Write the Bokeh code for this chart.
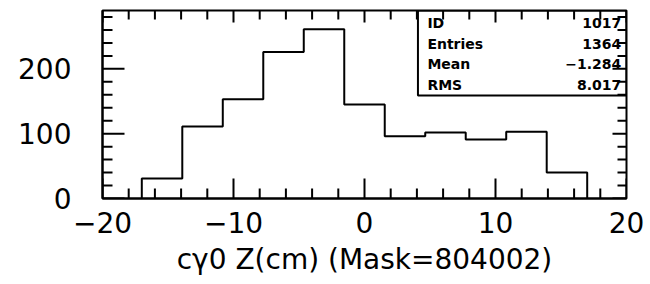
import numpy as np
from bokeh.plotting import figure
from bokeh.models import BoxAnnotation, Range1d, FixedTicker, ColumnDataSource
from bokeh.core.properties import value
from bokeh.embed import file_html
from bokeh.resources import INLINE

# ---- data ----
bin_lo = -17.0
bin_hi = 17.0
counts = [31, 111, 153, 226, 261, 145, 96, 102, 91, 103, 40]
x_ticks = [-20, -10, 0, 10, 20]
x_minor = list(range(-20, 21, 2))
x_tick_labels = ["\u221220", "\u221210", "0", "10", "20"]
y_ticks = [0, 100, 200]
y_minor = list(range(0, 291, 20))
y_tick_labels = ["0", "100", "200"]
stat_names = ["ID", "Entries", "Mean", "RMS"]
stat_values = ["1017", "1364", "\u22121.284", "8.017"]
x_label = "c\u03b30 Z(cm) (Mask=804002)"

X0, X1, Y0, Y1 = -20, 20, 0, 290
W, H = 650, 284
BL, BR, BT, BB = 102, 24, 10, 86
FW, FH = W - BL - BR, H - BT - BB
DX = (X1 - X0) / FW   # data units per pixel in x
DY = (Y1 - Y0) / FH   # data units per pixel in y

# ---- step outline built from the bins ----
edges = np.linspace(bin_lo, bin_hi, len(counts) + 1)
xs = [edges[0]]
ys = [0]
for i, c in enumerate(counts):
    xs += [edges[i], edges[i + 1]]
    ys += [c, c]
xs.append(edges[-1])
ys.append(0)

FONT = "DejaVu Sans"

p = figure(width=W, height=H, output_backend="svg", toolbar_location=None,
           x_range=Range1d(X0, X1), y_range=Range1d(Y0, Y1),
           min_border_left=BL, min_border_right=BR, min_border_top=BT,
           min_border_bottom=BB, background_fill_color="white",
           border_fill_color="white")
p.grid.visible = False
p.outline_line_color = "black"
p.outline_line_alpha = 1.0
p.outline_line_width = 2

p.line(xs, ys, line_color="black", line_width=2)

# ---- inward tick marks on all four sides ----
xmin_only = [t for t in x_minor if t not in x_ticks]
ymin_only = [t for t in y_minor if t not in y_ticks]

tick_x, tick_y, tick_x1, tick_y1 = [], [], [], []


def add_xticks(pos, y, length_px, sign):
    for t in pos:
        tick_x.append(t); tick_y.append(y)
        tick_x1.append(t); tick_y1.append(y + sign * length_px * DY)


def add_yticks(pos, x, length_px, sign):
    for t in pos:
        tick_x.append(x); tick_y.append(t)
        tick_x1.append(x + sign * length_px * DX); tick_y1.append(t)


add_xticks(x_ticks, Y0, 20, 1)
add_xticks(xmin_only, Y0, 10, 1)
add_xticks(x_ticks, Y1, 12, -1)
add_xticks(xmin_only, Y1, 9, -1)
add_yticks(y_ticks, X0, 22, 1)
add_yticks(ymin_only, X0, 10, 1)
add_yticks(y_ticks, X1, 14, -1)
add_yticks(ymin_only, X1, 9, -1)

tsrc = ColumnDataSource(dict(x0=tick_x, y0=tick_y, x1=tick_x1, y1=tick_y1))
p.segment(x0="x0", y0="y0", x1="x1", y1="y1", source=tsrc,
          line_color="black", line_width=2)

# ---- axes (labels only) ----
xa = p.xaxis[0]
xa.ticker = FixedTicker(ticks=x_ticks)
xa.major_label_overrides = {t: l for t, l in zip(x_ticks, x_tick_labels)}
xa.major_tick_in = 0
xa.major_tick_out = 0
xa.minor_tick_in = 0
xa.minor_tick_out = 0
xa.axis_line_width = 2
xa.major_label_text_font = FONT
xa.major_label_text_font_size = "28px"
xa.major_label_text_color = "black"
xa.major_label_standoff = 13
xa.axis_label = x_label
xa.axis_label_text_font = FONT
xa.axis_label_text_font_size = "28px"
xa.axis_label_text_font_style = "normal"
xa.axis_label_text_color = "black"
xa.axis_label_standoff = 7

ya = p.yaxis[0]
ya.ticker = FixedTicker(ticks=y_ticks)
ya.major_label_overrides = {t: l for t, l in zip(y_ticks, y_tick_labels)}
ya.major_tick_in = 0
ya.major_tick_out = 0
ya.minor_tick_in = 0
ya.minor_tick_out = 0
ya.axis_line_width = 2
ya.major_label_text_font = FONT
ya.major_label_text_font_size = "28px"
ya.major_label_text_color = "black"
ya.major_label_standoff = 31
ya.major_label_orientation = "horizontal"

# ---- stats box ----
p.add_layout(BoxAnnotation(left=4.08, right=X1, bottom=159, top=Y1,
                           fill_alpha=0, line_color="black", line_alpha=1.0,
                           line_width=2))
row_y = [270 - 31.5 * i for i in range(len(stat_names))]
src = ColumnDataSource(dict(name=stat_names, val=stat_values,
                            y=row_y, xl=[4.8] * 4, xr=[19.6] * 4))
p.text(x="xl", y="y", text="name", source=src, text_font=value(FONT),
       text_font_size="14px", text_font_style="bold", text_color="black",
       text_align="left", text_baseline="middle")
p.text(x="xr", y="y", text="val", source=src, text_font=value(FONT),
       text_font_size="14px", text_font_style="bold", text_color="black",
       text_align="right", text_baseline="middle")

open("out.html", "w").write(file_html(p, INLINE))
